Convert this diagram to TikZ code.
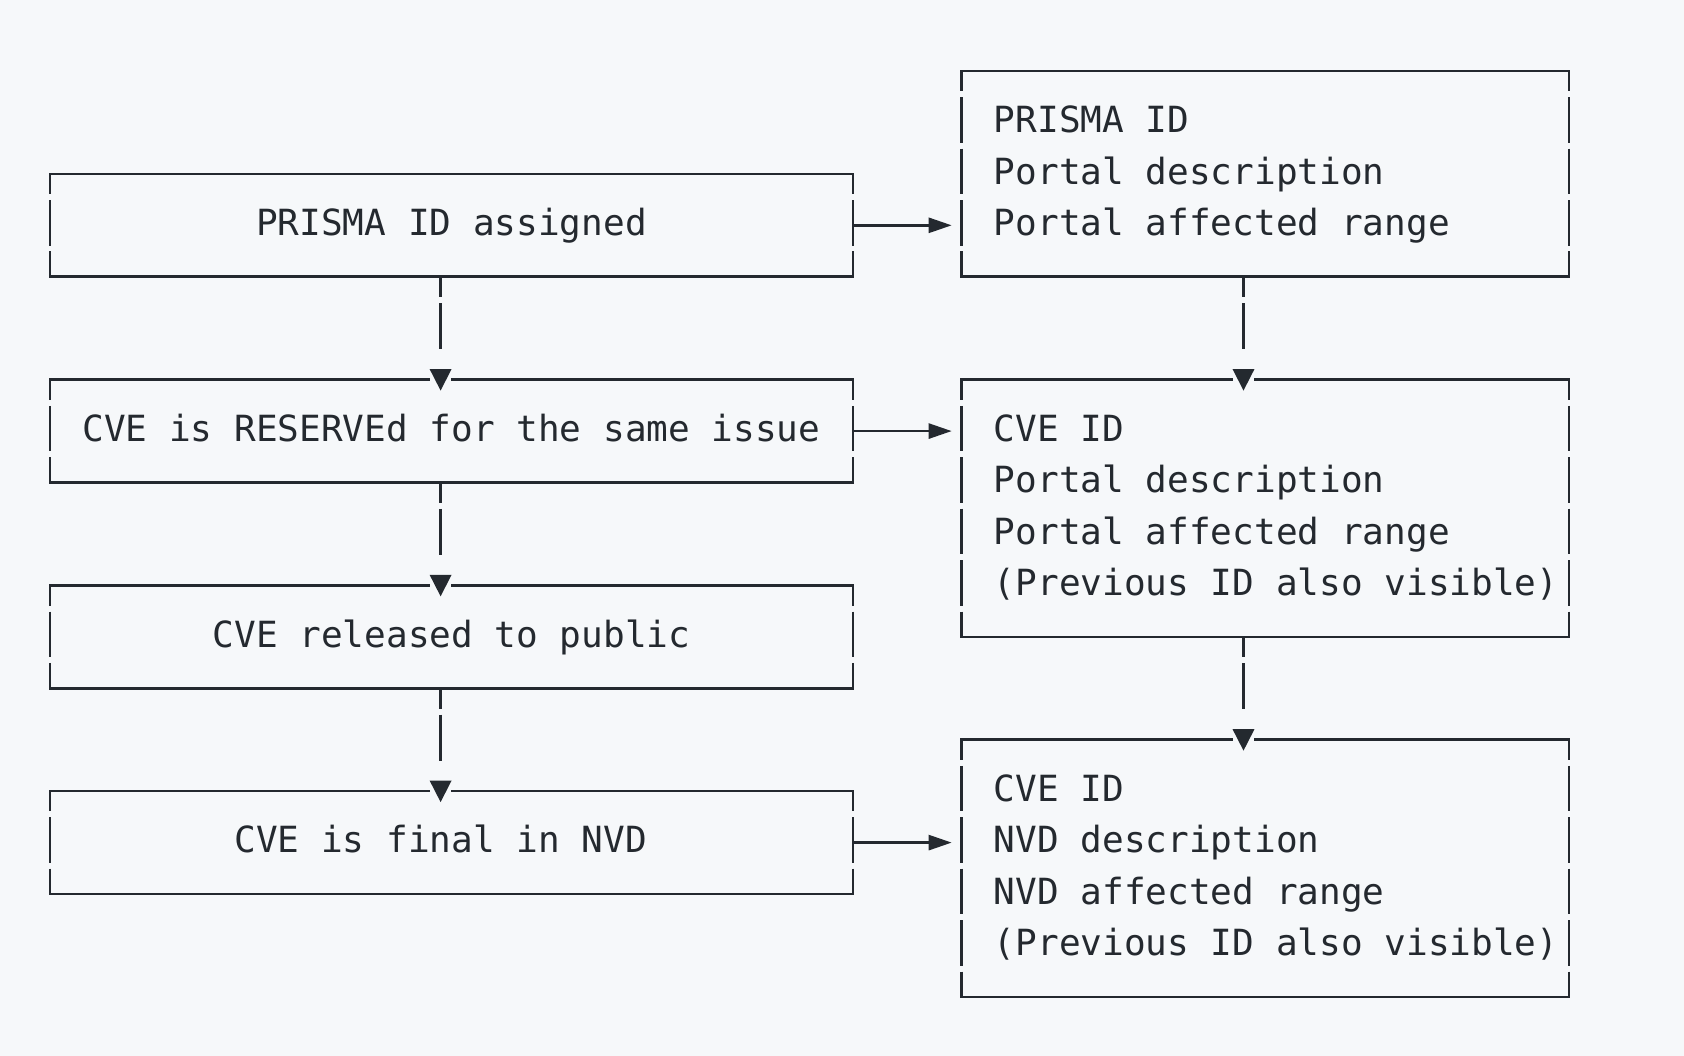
\documentclass[tikz,border=0pt]{standalone}
\usepackage{fontspec}
\setmonofont{DejaVu Sans Mono}
\usetikzlibrary{arrows.meta}
\definecolor{bgc}{HTML}{F6F8FA}
\definecolor{ink}{HTML}{24292F}
\tikzset{
  boxnode/.style={draw=none, rectangle, inner sep=0pt, outer sep=0pt},
  txt/.style={inner sep=0pt, outer sep=0pt, text=ink, font=\ttfamily\fontsize{36.05}{51.44}\selectfont},
  edgeline/.style={draw=ink, line width=2.6pt, line cap=rect},
  sideline/.style={draw=ink, line width=2.6pt, dash pattern=on 45.6pt off 5.84pt, dash phase=25.3pt},
  harrow/.style={draw=ink, line width=2.6pt, -{Triangle[length=23pt,width=15pt]}, shorten >=9.7pt},
  varrow/.style={draw=ink, line width=2.6pt, dash pattern=on 20.6pt off 5.7pt on 46pt off 60pt, -{Triangle[length=21.5pt,width=21.2pt]}},
}
\newcommand\boxborder[1]{%
  \draw[edgeline] (#1.north west) -- (#1.north east);
  \draw[edgeline] (#1.south west) -- (#1.south east);
  \draw[sideline] (#1.north west) -- (#1.south west);
  \draw[sideline] (#1.north east) -- (#1.south east);
}
\newcommand\tipgap[2]{%
  \fill[bgc] ([xshift=#2-10.85pt, yshift=2.5pt]#1.north) rectangle ([xshift=#2+10.85pt, yshift=-2.5pt]#1.north);
}
\begin{document}
\begin{tikzpicture}[x=1pt, y=-1pt]
\fill[bgc] (0,0) rectangle (1684,1056);
\useasboundingbox (0,0) rectangle (1684,1056);

% left boxes
\node[boxnode, minimum width=802.9pt, minimum height=102.88pt] (b1) at (451.45,225.32) {};
\node[boxnode, minimum width=802.9pt, minimum height=102.88pt] (b2) at (451.45,431.08) {};
\node[boxnode, minimum width=802.9pt, minimum height=102.88pt] (b3) at (451.45,636.84) {};
\node[boxnode, minimum width=802.9pt, minimum height=102.88pt] (b4) at (451.45,842.6) {};
% right boxes
\node[boxnode, minimum width=607.6pt, minimum height=205.76pt] (r1) at (1265.2,173.88) {};
\node[boxnode, minimum width=607.6pt, minimum height=257.2pt] (r2) at (1265.2,508.24) {};
\node[boxnode, minimum width=607.6pt, minimum height=257.2pt] (r3) at (1265.2,868.32) {};

\boxborder{b1}\boxborder{b2}\boxborder{b3}\boxborder{b4}
\boxborder{r1}\boxborder{r2}\boxborder{r3}

% texts, left
\node[txt, anchor=base] (t1) at (451.45,235.6) {PRISMA ID assigned};
\node[txt, anchor=base] (t2) at (451.45,441.4) {CVE is RESERVEd for the same issue};
\node[txt, anchor=base] (t3) at (451.45,647.1) {CVE released to public};
\node[txt, anchor=base] (t4) at (440.6,852.9) {CVE is final in NVD};
% texts, right
\node[txt, anchor=base west] (p1) at (993.95,132.7) {PRISMA ID};
\node[txt, anchor=base west] (p2) at (993.95,184.2) {Portal description};
\node[txt, anchor=base west] (p3) at (993.95,235.6) {Portal affected range};
\node[txt, anchor=base west] (c1) at (993.95,441.4) {CVE ID};
\node[txt, anchor=base west] (c2) at (993.95,492.8) {Portal description};
\node[txt, anchor=base west] (c3) at (993.95,544.3) {Portal affected range};
\node[txt, anchor=base west] (c4) at (993.95,595.7) {(Previous ID also visible)};
\node[txt, anchor=base west] (n1) at (993.95,801.5) {CVE ID};
\node[txt, anchor=base west] (n2) at (993.95,852.9) {NVD description};
\node[txt, anchor=base west] (n3) at (993.95,904.3) {NVD affected range};
\node[txt, anchor=base west] (n4) at (993.95,955.8) {(Previous ID also visible)};

% horizontal arrows
\draw[harrow] (b1.east) -- (b1.east -| r1.west);
\draw[harrow] (b2.east) -- (b2.east -| r2.west);
\draw[harrow] (b4.east) -- (b4.east -| r3.west);

% gaps in top borders for the arrow heads
\tipgap{b2}{-10.85pt}\tipgap{b3}{-10.85pt}\tipgap{b4}{-10.85pt}
\tipgap{r2}{-21.7pt}\tipgap{r3}{-21.7pt}

% vertical arrows
\draw[varrow] ([xshift=-10.85pt]b1.south) -- ([xshift=-10.85pt, yshift=-11pt]b2.north);
\draw[varrow] ([xshift=-10.85pt]b2.south) -- ([xshift=-10.85pt, yshift=-11pt]b3.north);
\draw[varrow] ([xshift=-10.85pt]b3.south) -- ([xshift=-10.85pt, yshift=-11pt]b4.north);
\draw[varrow] ([xshift=-21.7pt]r1.south) -- ([xshift=-21.7pt, yshift=-11pt]r2.north);
\draw[varrow] ([xshift=-21.7pt]r2.south) -- ([xshift=-21.7pt, yshift=-11pt]r3.north);
\end{tikzpicture}
\end{document}
